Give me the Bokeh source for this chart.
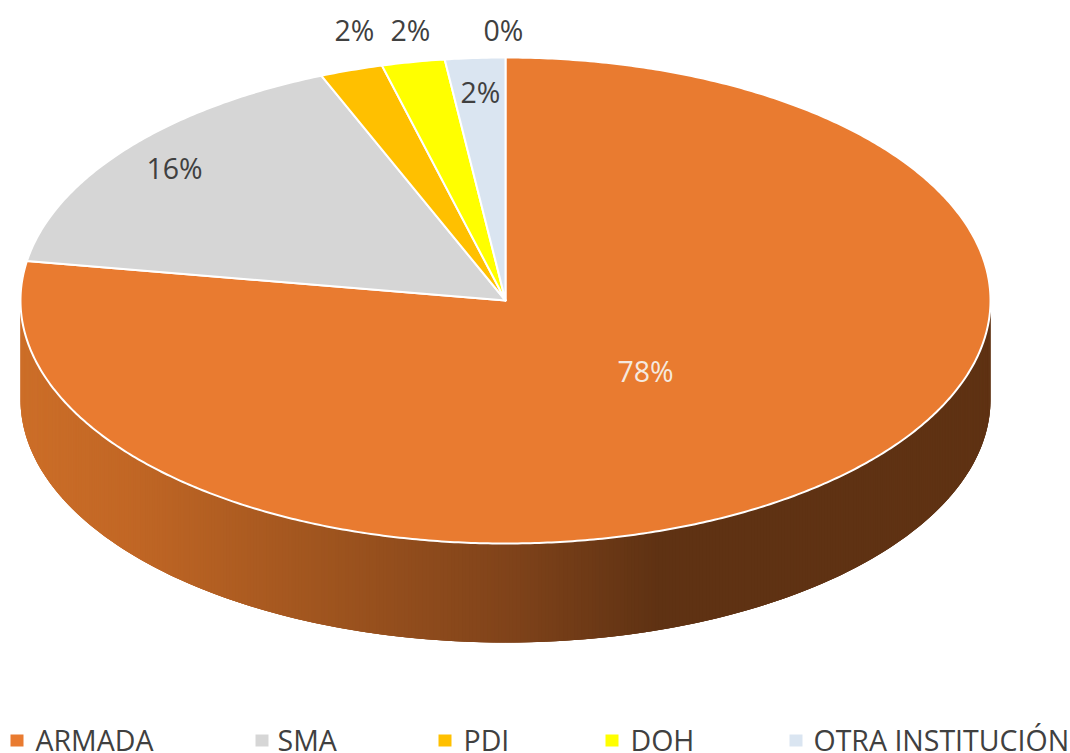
import numpy as np
from bokeh.plotting import figure
from bokeh.models import Range1d, ColumnDataSource
from bokeh.core.properties import value
from bokeh.embed import file_html
from bokeh.resources import INLINE

categories = ["ARMADA", "SMA", "PDI", "DOH", "OTRA INSTITUCIÓN"]
shares = [77.6, 16.2, 2.1, 2.1, 2.0]
colors = ["#E97B30", "#D6D6D6", "#FFC000", "#FFFF00", "#DAE5F1"]
label_texts = ["78%", "16%", "2%", "2%", "2%", "0%"]
label_colors = ["#F5E9DF", "#404040", "#404040", "#404040", "#404040", "#404040"]
label_x = [645, 174, 354, 410, 480, 503]
label_y = [370.5, 167.5, 29.5, 29.5, 91.5, 29.5]
legend_sq_x = [16.5, 261.5, 444.5, 611.5, 795.5]
legend_text_x = [35, 277, 463, 630, 813]

cx, cy, rx, ry = 505, 300, 485, 243
depth = 99
grad_x = [20, 120, 300, 500, 650, 990]
grad_r = [204, 194, 162, 128, 95, 95]
grad_g = [110, 103, 86, 67, 50, 50]
grad_b = [40, 37, 31, 26, 19, 19]

WIDTH, HEIGHT = 1070, 753
p = figure(width=WIDTH, height=HEIGHT, x_range=Range1d(0, WIDTH), y_range=Range1d(HEIGHT, 0),
           output_backend="svg", toolbar_location=None, min_border=0)
p.axis.visible = False
p.grid.visible = False
p.outline_line_color = None
p.background_fill_color = "white"


def pt(frac):
    a = 2 * np.pi * frac
    return cx + rx * np.sin(a), cy - ry * np.cos(a)


# Front wall of the disc: overlapping strips, painted from right to left, carry the shading
front = np.linspace(0.25, 0.75, 421)
sx, sy = pt(front)
xs, ys, fc = [], [], []
for i in range(len(front) - 1):
    j = max(i - 2, 0)
    xs.append([sx[j], sx[i + 1], sx[i + 1], sx[j]])
    ys.append([sy[j], sy[i + 1], sy[i + 1] + depth, sy[j] + depth])
    m = (sx[i] + sx[i + 1]) / 2
    fc.append("#%02x%02x%02x" % (round(np.interp(m, grad_x, grad_r)),
                                 round(np.interp(m, grad_x, grad_g)),
                                 round(np.interp(m, grad_x, grad_b))))
p.patches(xs, ys, fill_color=fc, line_color=None)

# Top face, from the shares
edges = np.cumsum([0] + shares) / sum(shares)
tx, ty = [], []
for a, b in zip(edges[:-1], edges[1:]):
    t = np.linspace(a, b, max(int((b - a) * 720), 6))
    ex, ey = pt(t)
    tx.append([cx] + list(ex))
    ty.append([cy] + list(ey))
p.patches(tx, ty, fill_color=colors, line_color="#FFFFFF", line_width=2, line_join="round")

# Data labels
src = ColumnDataSource(dict(x=label_x, y=label_y, t=label_texts, c=label_colors))
p.text(x="x", y="y", text="t", text_color="c", source=src, text_font=value("Open Sans"),
       text_font_size="28.5px", text_align="center", text_baseline="middle")

# Legend
p.rect(x=legend_sq_x, y=[740] * 5, width=13, height=12, fill_color=colors, line_color=None)
p.text(x=legend_text_x, y=[739] * 5, text=categories, text_color="#404040", text_font=value("Open Sans"),
       text_font_size="28.5px", text_align="left", text_baseline="middle")

open("out.html", "w").write(file_html(p, INLINE))
